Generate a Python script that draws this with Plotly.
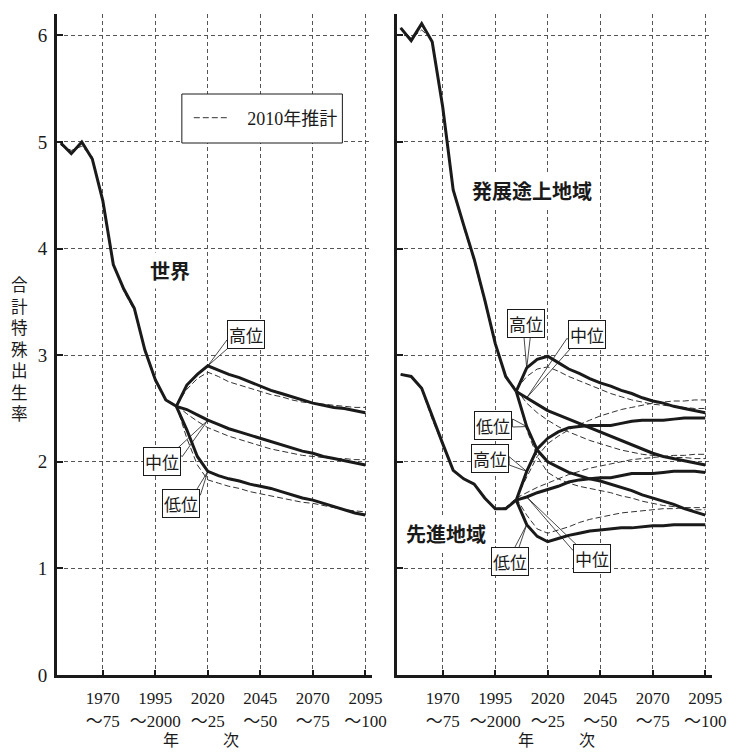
import plotly.graph_objects as go

# ---- data: total fertility rate, 5-year periods (start year) ----
years_hist = [1950, 1955, 1960, 1965, 1970, 1975, 1980, 1985, 1990, 1995, 2000, 2005]
years_proj = [2005, 2010, 2015, 2020, 2025, 2030, 2035, 2040, 2045, 2050,
              2055, 2060, 2065, 2070, 2075, 2080, 2085, 2090, 2095]

tick_years = [1970, 1995, 2020, 2045, 2070, 2095]
tick_text = ["1970<br>～75", "1995<br>～2000", "2020<br>～25",
             "2045<br>～50", "2070<br>～75", "2095<br>～100"]

# World (current estimate)
world_hist = [4.99, 4.89, 5.00, 4.84, 4.45, 3.85, 3.62, 3.44, 3.05, 2.77, 2.58, 2.52]
world_high = [2.52, 2.72, 2.82, 2.90, 2.86, 2.82, 2.79, 2.75, 2.71, 2.67,
              2.64, 2.61, 2.58, 2.55, 2.53, 2.51, 2.50, 2.48, 2.46]
world_med = [2.52, 2.49, 2.44, 2.39, 2.35, 2.31, 2.28, 2.25, 2.22, 2.19,
             2.16, 2.13, 2.10, 2.08, 2.05, 2.03, 2.01, 1.99, 1.97]
world_low = [2.52, 2.30, 2.05, 1.91, 1.87, 1.84, 1.82, 1.79, 1.77, 1.75,
             1.72, 1.69, 1.66, 1.64, 1.61, 1.58, 1.55, 1.52, 1.50]
# World (2010 estimate)
world_hist_2010 = [4.97, 4.92, 4.96, 4.86, 4.45, 3.85, 3.60, 3.42, 3.05, 2.75, 2.58, 2.53]
world_high_2010 = [2.53, 2.68, 2.78, 2.84, 2.80, 2.75, 2.72, 2.69, 2.66, 2.63,
                   2.61, 2.58, 2.56, 2.55, 2.54, 2.53, 2.52, 2.51, 2.51]
world_med_2010 = [2.53, 2.45, 2.38, 2.32, 2.28, 2.24, 2.21, 2.18, 2.15, 2.12,
                  2.10, 2.08, 2.06, 2.05, 2.04, 2.03, 2.03, 2.02, 2.02]
world_low_2010 = [2.53, 2.22, 1.97, 1.83, 1.80, 1.77, 1.75, 1.72, 1.70, 1.68,
                  1.66, 1.64, 1.62, 1.61, 1.59, 1.57, 1.55, 1.54, 1.53]

# Developing regions (current estimate)
dev_hist = [6.07, 5.95, 6.11, 5.94, 5.33, 4.55, 4.22, 3.90, 3.52, 3.11, 2.80, 2.66]
dev_high = [2.66, 2.88, 2.96, 2.99, 2.93, 2.87, 2.83, 2.78, 2.74, 2.71,
            2.67, 2.64, 2.60, 2.57, 2.55, 2.52, 2.50, 2.48, 2.46]
dev_med = [2.66, 2.60, 2.54, 2.48, 2.44, 2.40, 2.36, 2.32, 2.28, 2.24,
           2.20, 2.16, 2.12, 2.08, 2.05, 2.03, 2.01, 1.99, 1.97]
dev_low = [2.66, 2.33, 2.11, 2.00, 1.95, 1.90, 1.87, 1.84, 1.82, 1.79,
           1.76, 1.73, 1.69, 1.66, 1.63, 1.60, 1.56, 1.53, 1.50]
# Developing regions (2010 estimate)
dev_hist_2010 = [6.07, 5.97, 6.05, 5.96, 5.33, 4.57, 4.20, 3.88, 3.50, 3.10, 2.80, 2.68]
dev_high_2010 = [2.68, 2.80, 2.87, 2.89, 2.85, 2.80, 2.76, 2.72, 2.68, 2.64,
                 2.61, 2.58, 2.56, 2.54, 2.53, 2.52, 2.51, 2.50, 2.50]
dev_med_2010 = [2.68, 2.55, 2.46, 2.39, 2.33, 2.28, 2.24, 2.20, 2.17, 2.14,
                2.11, 2.09, 2.07, 2.06, 2.05, 2.04, 2.04, 2.03, 2.03]
dev_low_2010 = [2.68, 2.30, 2.05, 1.90, 1.84, 1.80, 1.77, 1.75, 1.73, 1.71,
                1.68, 1.66, 1.63, 1.61, 1.59, 1.58, 1.56, 1.55, 1.55]

# Developed regions (current estimate)
adv_hist = [2.82, 2.80, 2.69, 2.42, 2.17, 1.92, 1.84, 1.79, 1.66, 1.56, 1.56, 1.64]
adv_high = [1.64, 1.91, 2.12, 2.22, 2.28, 2.32, 2.33, 2.34, 2.34, 2.34,
            2.36, 2.38, 2.39, 2.39, 2.39, 2.40, 2.41, 2.41, 2.41]
adv_med = [1.64, 1.67, 1.71, 1.74, 1.77, 1.81, 1.83, 1.84, 1.85, 1.85,
           1.87, 1.89, 1.89, 1.89, 1.90, 1.91, 1.91, 1.91, 1.90]
adv_low = [1.64, 1.41, 1.30, 1.25, 1.28, 1.31, 1.33, 1.35, 1.36, 1.37,
           1.38, 1.38, 1.39, 1.40, 1.40, 1.41, 1.41, 1.41, 1.41]
# Developed regions (2010 estimate)
adv_hist_2010 = [2.82, 2.80, 2.68, 2.40, 2.16, 1.92, 1.84, 1.80, 1.67, 1.56, 1.57, 1.66]
adv_high_2010 = [1.66, 1.86, 2.05, 2.17, 2.24, 2.30, 2.35, 2.39, 2.43, 2.46,
                 2.49, 2.51, 2.53, 2.55, 2.56, 2.57, 2.57, 2.58, 2.58]
adv_med_2010 = [1.66, 1.71, 1.76, 1.80, 1.84, 1.88, 1.91, 1.94, 1.96, 1.98,
                2.00, 2.02, 2.03, 2.04, 2.05, 2.06, 2.06, 2.07, 2.07]
adv_low_2010 = [1.66, 1.50, 1.37, 1.33, 1.36, 1.39, 1.43, 1.46, 1.48, 1.50,
                1.52, 1.53, 1.54, 1.55, 1.56, 1.56, 1.57, 1.57, 1.57]

# ---- geometry ----
W, H = 738, 752
ML, MR, MT, MB = 57, 20, 14, 77
PW, PH = W - ML - MR, H - MT - MB
PANEL_W = 318
X0 = {"L": 57, "R": 400}
XR = [1948.2, 2098.2]
YR = [0, 6.2]
BOTTOM = H - MB

SERIF = "Liberation Serif, Noto Sans CJK JP, serif"
CJK = "Noto Sans CJK JP, sans-serif"
INK = "#1a1a1a"


def paper_x(px):
    return (px - ML) / PW


def paper_y(py):
    return (BOTTOM - py) / PH


def data_x(px, panel):
    return XR[0] + (px - X0[panel]) * (XR[1] - XR[0]) / PANEL_W


def data_y(py):
    return (BOTTOM - py) * (YR[1] - YR[0]) / PH


def ddx(dpx):
    return dpx * (XR[1] - XR[0]) / PANEL_W


def ddy(dpy):
    return -dpy * (YR[1] - YR[0]) / PH


def paper_text(px, py, text, size, family=CJK, yanchor="middle", **kw):
    fig.add_annotation(xref="paper", yref="paper", x=paper_x(px), y=paper_y(py),
                       xanchor="center", yanchor=yanchor, text=text, showarrow=False,
                       font=dict(family=family, size=size, color=INK), **kw)


fig = go.Figure()

solid = dict(color=INK, width=3)
dashed = dict(color="#333333", width=1, dash="6px,3px")

panels = [
    ("x", "y", [(world_hist, world_high, world_med, world_low),
                (world_hist_2010, world_high_2010, world_med_2010, world_low_2010)]),
    ("x2", "y2", [(dev_hist, dev_high, dev_med, dev_low),
                  (dev_hist_2010, dev_high_2010, dev_med_2010, dev_low_2010)]),
    ("x2", "y2", [(adv_hist, adv_high, adv_med, adv_low),
                  (adv_hist_2010, adv_high_2010, adv_med_2010, adv_low_2010)]),
]

legend_shown = False
# 2010 estimate (dashed) first, current estimate (solid) on top
for xa, ya, (cur, old) in panels:
    hist, hi, md, lo = old
    fig.add_trace(go.Scatter(x=years_hist, y=hist, mode="lines", line=dashed,
                             xaxis=xa, yaxis=ya, name="\u00a0\u00a0\u00a02010年推計",
                             showlegend=not legend_shown, hoverinfo="skip"))
    legend_shown = True
    for s in (hi, md, lo):
        fig.add_trace(go.Scatter(x=years_proj, y=s, mode="lines", line=dashed,
                                 xaxis=xa, yaxis=ya, showlegend=False, hoverinfo="skip"))
for xa, ya, (cur, old) in panels:
    hist, hi, md, lo = cur
    fig.add_trace(go.Scatter(x=years_hist, y=hist, mode="lines", line=solid,
                             xaxis=xa, yaxis=ya, showlegend=False, hoverinfo="skip"))
    for s in (hi, md, lo):
        fig.add_trace(go.Scatter(x=years_proj, y=s, mode="lines", line=solid,
                                 xaxis=xa, yaxis=ya, showlegend=False, hoverinfo="skip"))

# ---- axes ----
common_x = dict(range=XR, tickvals=tick_years, ticktext=tick_text,
                showgrid=True, gridcolor="#555555", griddash="4px,3px", gridwidth=1,
                showline=True, linecolor=INK, linewidth=3,
                ticks="inside", ticklen=5, tickwidth=2, tickcolor=INK,
                tickfont=dict(family=SERIF, size=17, color=INK),
                ticklabelstandoff=6, zeroline=False, fixedrange=True)
common_y = dict(range=YR, tickvals=[0, 1, 2, 3, 4, 5, 6],
                showgrid=True, gridcolor="#555555", griddash="4px,3px", gridwidth=1,
                showline=True, linecolor=INK, linewidth=3,
                ticks="inside", ticklen=6, tickwidth=2, tickcolor=INK,
                tickfont=dict(family=SERIF, size=19, color=INK),
                ticklabelstandoff=3, zeroline=False, fixedrange=True)

fig.update_layout(
    xaxis=dict(domain=[0, PANEL_W / PW], anchor="y", **common_x),
    yaxis=dict(domain=[0, 1], anchor="x", **common_y),
    xaxis2=dict(domain=[(X0["R"] - ML) / PW, 1], anchor="y2", **common_x),
    yaxis2=dict(domain=[0, 1], anchor="x2", showticklabels=False, **common_y),
)

# ---- legend ----
fig.add_shape(type="rect", xref="paper", yref="paper",
              x0=paper_x(183), x1=paper_x(345), y0=paper_y(143), y1=paper_y(94),
              line=dict(color=INK, width=1), fillcolor="white", layer="above")
fig.update_layout(
    showlegend=True,
    legend=dict(x=paper_x(190), y=paper_y(118), xanchor="left", yanchor="middle",
                bgcolor="rgba(0,0,0,0)", borderwidth=0,
                font=dict(family=SERIF, size=18, color=INK),
                itemwidth=35, itemclick=False, itemdoubleclick=False),
)

# ---- region titles ----
for text, px, py in [("世界", 171, 270), ("発展途上地域", 536, 190), ("先進地域", 450, 533)]:
    paper_text(px, py, f"<b>{text}</b>", 20, bgcolor="white", borderpad=3)

# ---- variant callouts: box centre (px), tip on a projected series, wedge base offsets (px) ----
callouts = [
    ("L", "高位", 247.5, 334.5, world_high, 2020, (-19, 5.5), (-15.5, 11.5)),
    ("L", "中位", 163, 461.5, world_med, 2020, (13.7, -11.5), (20.3, -4.8)),
    ("L", "低位", 182, 503.5, world_low, 2020, (14.7, -11.8), (19.7, -8.5)),
    ("R", "高位", 530.3, 323.7, dev_high, 2010, (-2.3, 10.3), (4.7, 10.3)),
    ("R", "中位", 591.7, 334.2, dev_med, 2010, (-20, 4.1), (-13.4, 10.8)),
    ("R", "低位", 496.7, 425, dev_low, 2010, (20, -6), (20, 2)),
    ("R", "高位", 494, 458.3, adv_high, 2010, (19.3, -1.6), (19.3, 6.7)),
    ("R", "低位", 514, 561.7, adv_low, 2010, (2.7, -10), (7.7, -10)),
    ("R", "中位", 597, 558.3, adv_med, 2010, (-19.7, -8.3), (-12, -10)),
]
for panel, text, cx, cy, series, yr, b1, b2 in callouts:
    xr, yr_ref = ("x", "y") if panel == "L" else ("x2", "y2")
    bx, by = data_x(cx, panel), data_y(cy)
    tx, ty = yr, series[years_proj.index(yr)]
    p1 = (bx + ddx(b1[0]), by + ddy(b1[1]))
    p2 = (bx + ddx(b2[0]), by + ddy(b2[1]))
    fig.add_shape(type="path", xref=xr, yref=yr_ref,
                  path=f"M{p1[0]},{p1[1]} L{tx},{ty} L{p2[0]},{p2[1]} Z",
                  line=dict(color=INK, width=0.8), fillcolor="white", layer="between")
    fig.add_annotation(xref=xr, yref=yr_ref, x=bx, y=by, text=text, showarrow=False,
                       xanchor="center", yanchor="middle",
                       bgcolor="white", bordercolor=INK, borderwidth=1, borderpad=1,
                       font=dict(family=CJK, size=17, color=INK))

# ---- axis titles ----
paper_text(19, 348, "<br>".join("合計特殊出生率"), 16.6, borderpad=0)
for px, ch in [(172, "年"), (233, "次"), (530, "年"), (592, "次")]:
    paper_text(px, 752, ch, 16, yanchor="bottom", borderpad=0)

fig.update_layout(
    width=W, height=H,
    margin=dict(l=ML, r=MR, t=MT, b=MB),
    paper_bgcolor="white", plot_bgcolor="white",
)

fig.write_html("out.html")
